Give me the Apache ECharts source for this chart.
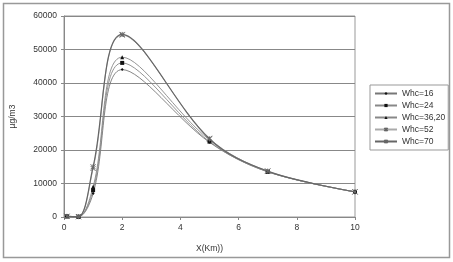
<!DOCTYPE html>
<html><head><meta charset="utf-8">
<script src="https://cdn.jsdelivr.net/npm/echarts@6/dist/echarts.min.js"></script>
<style>html,body{margin:0;padding:0;background:#fff}#c{width:453px;height:262px}</style>
</head><body><div id="c"></div>
<script>
var xValues = [0.1, 0.5, 1, 2, 5, 7, 10];
var seriesNames = ['Whc=16', 'Whc=24', 'Whc=36,20', 'Whc=52', 'Whc=70'];
var whc16 = [200, 100, 7000, 44000, 22300, 13500, 7500];
var whc24 = [200, 100, 8000, 46000, 22500, 13500, 7500];
var whc3620 = [200, 100, 9000, 47700, 23000, 13600, 7500];
var whc52 = [200, 100, 14500, 54300, 23500, 13700, 7500];
var whc70 = [200, 100, 15000, 54500, 23300, 13700, 7500];
var yTicks = [0, 10000, 20000, 30000, 40000, 50000, 60000];
var xTicks = [0, 2, 4, 6, 8, 10];

var allValues = [whc16, whc24, whc3620, whc52, whc70];
var colors = ['#777', '#888', '#888', '#aaa', '#666'];
var symbols = ['diamond', 'rect', 'triangle', 'path://M0,0L10,10M10,0L0,10', 'path://M0,0L10,10M10,0L0,10M5,0L5,10'];
var sizes = [3, 4, 4, 5, 5];

var series = allValues.map(function (vals, i) {
  return {
    name: seriesNames[i], type: 'line', smooth: 0.35,
    data: vals.map(function (v, j) { return [xValues[j], v]; }),
    symbol: symbols[i], symbolSize: sizes[i],
    lineStyle: { color: colors[i], width: i === 4 ? 1.2 : 0.9 },
    itemStyle: { color: i > 2 ? 'none' : '#111', borderColor: i > 2 ? '#666' : '#111', borderWidth: i > 2 ? 1 : 0 },
    z: i === 4 ? 5 : 3
  };
});

var chart = echarts.init(document.getElementById('c'), null, { renderer: 'canvas' });
chart.setOption({
  animation: false,
  backgroundColor: '#fff',
  textStyle: { fontFamily: 'Liberation Sans, Arial, sans-serif' },
  graphic: [{ type: 'rect', shape: { x: 3.5, y: 3.5, width: 446, height: 254 }, style: { fill: 'none', stroke: '#999', lineWidth: 1.5 }, z: -1 }],
  grid: { left: 62, right: 98, top: 16, bottom: 45, show: true, borderColor: '#999', borderWidth: 1, backgroundColor: 'transparent' },
  legend: {
    orient: 'vertical', left: 370, top: 85,
    padding: [4, 3, 4, 4],
    borderColor: '#999', borderWidth: 1, borderRadius: 0,
    itemWidth: 22, itemHeight: 4, itemGap: 3,
    textStyle: { fontSize: 8.5, color: '#333', fontFamily: 'Liberation Sans, Arial, sans-serif' },
    data: seriesNames
  },
  xAxis: {
    type: 'value', min: xTicks[0], max: xTicks[xTicks.length - 1], interval: 2,
    name: 'X(Km))', nameLocation: 'middle', nameGap: 27,
    nameTextStyle: { fontSize: 8.5, color: '#333' },
    axisLine: { show: true, onZero: false, lineStyle: { color: '#888' } },
    axisTick: { show: true, length: 3, lineStyle: { color: '#888' } },
    axisLabel: { fontSize: 8.5, color: '#333', margin: 6 },
    splitLine: { show: false }
  },
  yAxis: {
    type: 'value', min: yTicks[0], max: yTicks[yTicks.length - 1], interval: 10000,
    name: 'µg/m3', nameLocation: 'middle', nameGap: 47, nameRotate: 90,
    nameTextStyle: { fontSize: 8.5, color: '#333' },
    axisLine: { show: true, lineStyle: { color: '#888' } },
    axisTick: { show: true, length: 3, lineStyle: { color: '#888' } },
    axisLabel: { fontSize: 8.5, color: '#333', margin: 7, formatter: function (v) { return String(v); } },
    splitLine: { show: true, lineStyle: { color: '#888', width: 1 } }
  },
  series: series
});
</script></body></html>
